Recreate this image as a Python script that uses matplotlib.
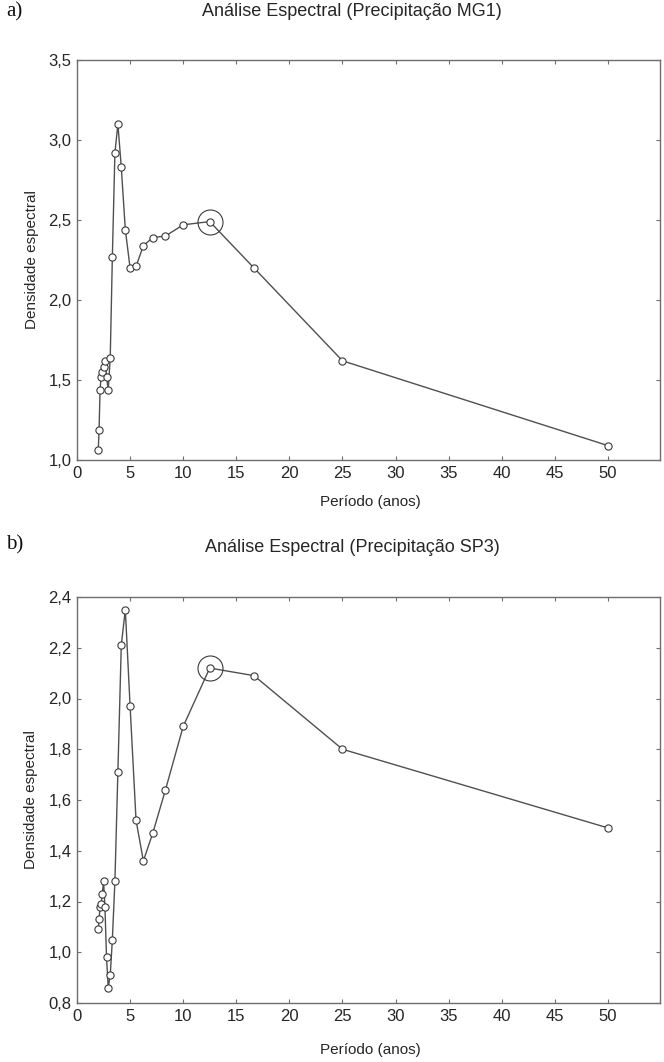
import matplotlib
matplotlib.use("Agg")
import matplotlib.pyplot as plt
from matplotlib.ticker import FuncFormatter, MultipleLocator

# ---- data ----
periods = [2.0, 2.08, 2.17, 2.27, 2.38, 2.5, 2.63, 2.78, 2.94, 3.13, 3.33, 3.57, 3.85,
           4.17, 4.55, 5.0, 5.56, 6.25, 7.14, 8.33, 10.0, 12.5, 16.67, 25.0, 50.0]
mg1 = [1.06, 1.19, 1.44, 1.52, 1.55, 1.58, 1.62, 1.52, 1.44, 1.64, 2.27, 2.92, 3.10,
       2.83, 2.44, 2.20, 2.21, 2.34, 2.39, 2.40, 2.47, 2.49, 2.20, 1.62, 1.09]
sp3 = [1.09, 1.13, 1.18, 1.19, 1.23, 1.28, 1.18, 0.98, 0.86, 0.91, 1.05, 1.28, 1.71,
       2.21, 2.35, 1.97, 1.52, 1.36, 1.47, 1.64, 1.89, 2.12, 2.09, 1.80, 1.49]
highlight_period = 12.5
titles = ["Análise Espectral (Precipitação MG1)", "Análise Espectral (Precipitação SP3)"]
panel_labels = ["a)", "b)"]
xlabel = "Período (anos)"
ylabel = "Densidade espectral"

plt.rcParams['font.family'] = ['Liberation Sans', 'DejaVu Sans']
W, H = 664, 1062
fig = plt.figure(figsize=(W / 100, H / 100), dpi=100)

txt = "#262626"
spine_c = "#6e6e6e"
line_c = "#505050"

def px(x0, y0, x1, y1):
    return [x0 / W, 1 - y1 / H, (x1 - x0) / W, (y1 - y0) / H]

specs = [
    dict(rect=px(77, 60, 660, 460), vals=mg1, ylim=(1.0, 3.5), ystep=0.5,
         title_y=12, lab_y=12, xlab_y=502),
    dict(rect=px(77, 597, 660, 1003), vals=sp3, ylim=(0.8, 2.4), ystep=0.2,
         title_y=548, lab_y=545, xlab_y=1050),
]

fmt = FuncFormatter(lambda v, p: f"{v:.1f}".replace('.', ','))

for i, s in enumerate(specs):
    ax = fig.add_axes(s['rect'])
    ax.plot(periods, s['vals'], color=line_c, lw=1.0, marker='o', ms=5.2,
            mfc='white', mec='#3a3a3a', mew=0.8, zorder=3)
    hi = periods.index(highlight_period)
    ax.plot([periods[hi]], [s['vals'][hi]], marker='o', ms=18, mfc='none',
            mec='#3a3a3a', mew=0.8, ls='none', zorder=4)
    ax.set_xlim(0, 54.9)
    ax.set_ylim(*s['ylim'])
    ax.set_xticks(list(range(0, 51, 5)))
    ax.yaxis.set_major_locator(MultipleLocator(s['ystep']))
    ax.yaxis.set_major_formatter(fmt)
    ax.tick_params(direction='in', length=3, width=0.8, color=spine_c,
                   top=True, right=True, labelsize=12, labelcolor=txt, pad=4)
    for sp in ax.spines.values():
        sp.set_color(spine_c)
        sp.set_linewidth(1.0)
    ax.set_ylabel(ylabel, fontsize=11, color=txt, labelpad=7)
    fig.text(370 / W, 1 - s['xlab_y'] / H, xlabel, ha='center', va='center',
             fontsize=11, color=txt)
    fig.text(352 / W, 1 - s['title_y'] / H, titles[i], ha='center', va='center',
             fontsize=13, color=txt)
    fig.text(6 / W, 1 - s['lab_y'] / H, panel_labels[i], ha='left', va='center',
             fontsize=15, color='#111111', family=['Liberation Serif', 'DejaVu Serif'])

fig.savefig("out.png", dpi=100, facecolor='white')
